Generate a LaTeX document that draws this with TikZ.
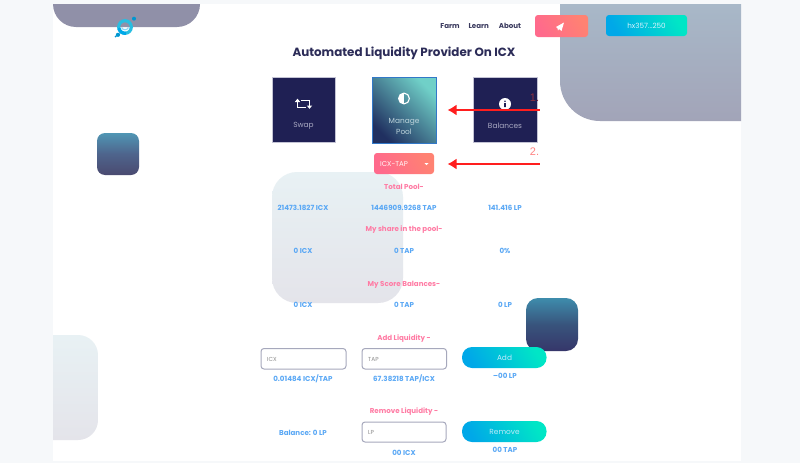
\documentclass[tikz,border=0pt]{standalone}
\usepackage{fontspec}
\setmainfont{Poppins}
\newfontfamily\numfont{Liberation Sans}
\usetikzlibrary{arrows.meta}
\definecolor{pagebg}{HTML}{F6F8FA}
\definecolor{navy}{HTML}{1F2054}
\definecolor{capt}{HTML}{A9A9C2}
\definecolor{pinktxt}{HTML}{FF7BA4}
\definecolor{bluetxt}{HTML}{5AA8F5}
\definecolor{darktxt}{HTML}{3A3A5E}
\definecolor{titletxt}{HTML}{2C2C58}
\definecolor{cyanbtn}{HTML}{00A8E8}
\definecolor{tealbtn}{HTML}{00E6C6}
\definecolor{coralA}{HTML}{FF6A8C}
\definecolor{coralB}{HTML}{FF8272}
\definecolor{arrowred}{HTML}{FF1E1E}
\definecolor{inputedge}{HTML}{A6A8BC}
\tikzset{
  flat/.style={text height=5pt,text depth=0pt,inner sep=0},
  pinklabel/.style={flat,font=\fontsize{7.1}{8}\selectfont\bfseries,text=pinktxt},
  bluelabel/.style={flat,font=\fontsize{7.1}{8}\selectfont\bfseries,text=bluetxt},
  navlabel/.style={flat,font=\fontsize{7.1}{8}\selectfont\bfseries,text=darktxt},
  cardcapt/.style={font=\fontsize{7.4}{11}\selectfont,text=capt,inner sep=0,align=center,yshift=-1pt},
  hint/.style={flat,font=\fontsize{5.8}{6}\selectfont,text=black!45,anchor=west},
  inputbox/.style={draw=inputedge,line width=1pt,fill=white,rounded corners=3},
  cardbox/.style={fill=navy,draw=capt!70,line width=.5pt},
  greenbtn/.style={left color=cyanbtn,right color=tealbtn,shading angle=120},
  coralbtn/.style={left color=coralA,right color=coralB,shading angle=120},
  redarrow/.style={draw=arrowred,line width=1.7pt,-{Latex[length=9pt,width=11pt]}},
  marklabel/.style={font=\numfont\fontsize{11}{12}\selectfont,inner sep=0},
  btnlabel/.style={flat,font=\fontsize{7.4}{9}\selectfont,text=white!75!cyan},
}
\begin{document}
\begin{tikzpicture}[x=1pt,y=-1pt]
\useasboundingbox (0,0) rectangle (800,463);
\fill[pagebg] (0,0) rectangle (800,463);
\fill[white] (53,4) rectangle (741,461);
% background blobs
\fill[color={rgb,255:red,144;green,144;blue,168}] (53,4) [rounded corners=23] -- (53,27) -- (200,27) [sharp corners] -- (200,4) -- cycle;
\shade[top color={rgb,255:red,168;green,184;blue,200},bottom color={rgb,255:red,162;green,164;blue,184}] (560,4) [rounded corners=40] -- (560,121) [sharp corners] -- (741,121) -- (741,4) -- cycle;
\shade[rounded corners=8,top color={rgb,255:red,80;green,150;blue,180},bottom color={rgb,255:red,74;green,74;blue,112},middle color={rgb,255:red,78;green,100;blue,140}] (97,133) rectangle (139,175);
\shade[rounded corners=25,top color={rgb,255:red,232;green,241;blue,244},bottom color={rgb,255:red,228;green,228;blue,234}] (272,172) rectangle (403,303);
\shade[top color={rgb,255:red,232;green,241;blue,244},bottom color={rgb,255:red,228;green,228;blue,234}] (53,335) [rounded corners=20] -- (98,335) -- (98,440) [sharp corners] -- (53,440) -- cycle;
\shade[rounded corners=12,top color={rgb,255:red,62;green,140;blue,172},bottom color={rgb,255:red,54;green,54;blue,106},middle color={rgb,255:red,56;green,84;blue,124}] (526,298) rectangle (578,351);
% logo
\draw[color={rgb,255:red,40;green,190;blue,225},line width=3.2pt] (125,27) circle (6.3);
\draw[cyanbtn,line width=3.2pt] (125,27) ++(-190:6.3) arc (-190:-280:6.3);
\draw[white!55!cyanbtn,line width=1.2pt] (121.5,27.5) .. controls (123,30.5) and (127,30.5) .. (128.5,27.5);
\fill[cyanbtn!90!black] (134,18.7) circle (2) (118,34.8) circle (2.1) (115.5,36.5) circle (1);
% header
\node[navlabel] (farm) at (450,26) {Farm};
\node[navlabel] (learn) at (478.7,26) {Learn};
\node[navlabel] (about) at (510,26) {About};
\shade[coralbtn,rounded corners=3] (535,15) rectangle (588,37);
\fill[white] (556,27) -- (564,22.5) -- (561.5,31) -- (559,29) -- (558,30.5) -- (557.5,28.3) -- cycle;
\shade[greenbtn,rounded corners=3] (606,15) rectangle (687,36);
\node[flat,font=\fontsize{7.2}{8}\selectfont,text=white!85!cyan] (wallet) at (646.5,26) {hx357...250};
\node[font=\fontsize{11.9}{15}\selectfont\bfseries,text=titletxt,inner sep=0,text height=8.5pt,text depth=0pt] (title) at (404,52.5) {Automated Liquidity Provider On ICX};
% cards
\fill[cardbox] (272,77) rectangle (335.5,142);
\shade[left color={rgb,255:red,32;green,48;blue,96},right color={rgb,255:red,112;green,208;blue,200},shading angle=135] (372,77) rectangle (436,143);
\draw[color={rgb,255:red,50;green,120;blue,200},line width=1pt] (372,77) rectangle (436,143);
\fill[cardbox] (473,77) rectangle (537,142);
% swap icon
\draw[white,line width=1.2pt] (297.5,101) -- (297.5,107.5) -- (306,107.5) (301,100.5) -- (309.5,100.5) -- (309.5,106);
\fill[white] (294.8,102) -- (300.2,102) -- (297.5,98.7) -- cycle (306.8,105.5) -- (312.2,105.5) -- (309.5,108.8) -- cycle;
\node[cardcapt] (swap) at (303.5,125) {Swap};
% manage icon
\draw[white,line width=1.1pt] (404,98.5) circle (5.4);
\begin{scope}
\clip (404,98.5) circle (5.4);
\fill[white] (398,92) rectangle (404,105);
\end{scope}
\node[cardcapt,text={rgb,255:red,190;green,212;blue,220}] (manage) at (404,125) {Manage\\Pool};
% balances icon
\fill[white] (505,104) circle (6);
\fill[navy] (504.2,103) rectangle (505.8,107) (505,101.2) circle (.9);
\node[cardcapt] (balances) at (505,125) {Balances};
% dropdown
\shade[coralbtn,rounded corners=3] (374,153) rectangle (434,174);
\node[flat,font=\fontsize{7}{8}\selectfont,text=white!85!pink] (pair) at (394,164) {ICX-TAP};
\fill[white] (424.5,163) -- (428.5,163) -- (426.5,165.2) -- cycle;
% table
\node[pinklabel] (t1) at (404,187) {Total Pool-};
\node[bluelabel] (a1) at (303,208) {21473.1827 ICX};
\node[bluelabel] (a2) at (404,208) {1446909.9268 TAP};
\node[bluelabel] (a3) at (505,208) {141.416 LP};
\node[pinklabel] (t2) at (404,229) {My share in the pool-};
\node[bluelabel] (b1) at (303,251) {0 ICX};
\node[bluelabel] (b2) at (404,251) {0 TAP};
\node[bluelabel] (b3) at (505,251) {0\%};
\node[pinklabel] (t3) at (404,283.5) {My Score Balances-};
\node[bluelabel] (c1) at (303,305) {0 ICX};
\node[bluelabel] (c2) at (404,305) {0 TAP};
\node[bluelabel] (c3) at (505,305) {0 LP};
% add liquidity
\node[pinklabel] (t4) at (404,337.5) {Add Liquidity -};
\draw[inputbox] (261,348.5) rectangle (346,369);
\node[hint] (h1) at (267,358.5) {ICX};
\draw[inputbox] (362,348.5) rectangle (446.5,369);
\node[hint] (h2) at (368,358.5) {TAP};
\shade[greenbtn,rounded corners=10] (462,347) rectangle (546.5,368);
\node[btnlabel] (add) at (504.5,357.5) {Add};
\node[bluelabel] (d1) at (303,379) {0.01484 ICX/TAP};
\node[bluelabel] (d2) at (404,379) {67.38218 TAP/ICX};
\node[bluelabel] (d3) at (505,375.5) {--00 LP};
% remove liquidity
\node[pinklabel] (t5) at (404,411) {Remove Liquidity -};
\node[bluelabel] (e1) at (303,432.5) {Balance: 0 LP};
\draw[inputbox] (362,422) rectangle (446,442);
\node[hint] (h3) at (368,432) {LP};
\shade[greenbtn,rounded corners=10] (462,421) rectangle (546.5,442);
\node[btnlabel] (remove) at (504.5,431.5) {Remove};
\node[bluelabel] (e2) at (404,452.5) {00 ICX};
\node[bluelabel] (e3) at (505,449.5) {00 TAP};
% annotations
\coordinate (s1) at (539.5,110);
\coordinate (e1a) at (447.5,110);
\coordinate (s2) at (539.5,164);
\coordinate (e2a) at (447.5,164);
\draw[redarrow] (s1) -- (e1a);
\draw[redarrow] (s2) -- (e2a);
\node[marklabel,text={rgb,255:red,140;green,48;blue,64}] (m1) at (534.5,98) {1.};
\node[marklabel,text={rgb,255:red,255;green,130;blue,130}] (m2) at (534.5,152) {2.};
\end{tikzpicture}
\end{document}
